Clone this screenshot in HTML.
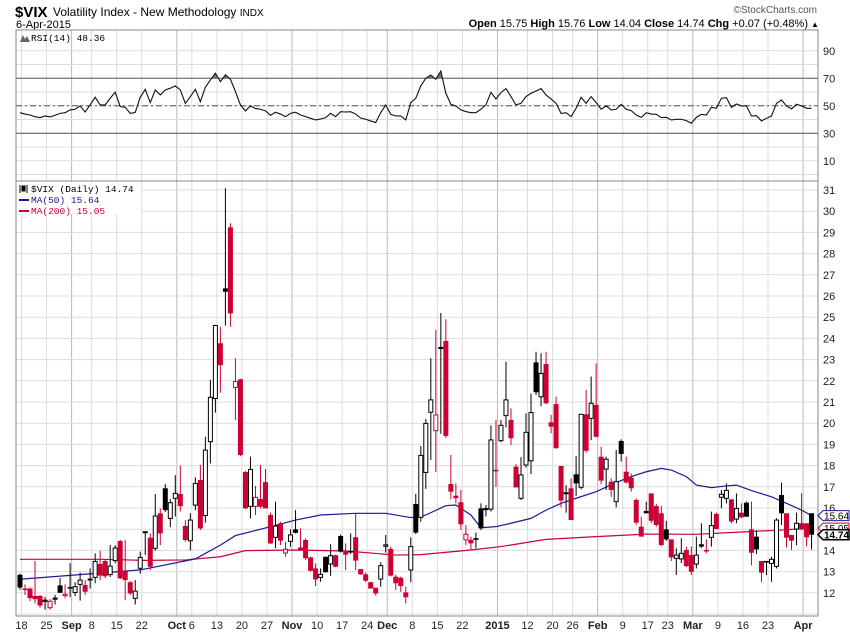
<!DOCTYPE html>
<html><head><meta charset="utf-8"><style>
html,body{margin:0;padding:0;background:#fff;}
svg{display:block;font-family:"Liberation Sans",sans-serif;}
</style></head><body>
<svg id="chart" width="850" height="633" viewBox="0 0 850 633" xmlns="http://www.w3.org/2000/svg">
<g>
<text x="15" y="17" font-size="15" font-weight="bold">$VIX</text>
<text x="53" y="16" font-size="12">Volatility Index - New Methodology <tspan font-size="10">INDX</tspan></text>
<text x="16" y="28" font-size="11">6-Apr-2015</text>
<text x="817" y="13" font-size="10" fill="#555" text-anchor="end">©StockCharts.com</text>
<text x="808" y="27" font-size="11" text-anchor="end"><tspan font-weight="bold">Open</tspan> 15.75 <tspan font-weight="bold">High</tspan> 15.76 <tspan font-weight="bold">Low</tspan> 14.04 <tspan font-weight="bold">Close</tspan> 14.74 <tspan font-weight="bold">Chg</tspan> +0.07 (+0.48%)</text>
<text x="811" y="27" font-size="8">▲</text>
</g>
<g id="grid"></g>
<g id="rsi"></g>
<g id="main"></g>
<g id="axes"></g>
</svg>
<script>
const NS="http://www.w3.org/2000/svg";
const opens=[12.85,12.2,12.2,11.85,11.85,11.55,11.25,11.65,12.35,11.82,12.27,11.97,12.35,12.37,12.6,12.68,13.36,13.5,12.81,13.47,14.44,13.0,12.5,11.69,13.11,14.8,14.6,14.05,15.75,16.93,15.46,16.41,16.66,15.15,14.41,16.09,17.32,15.6,19.08,21.12,23.77,26.36,29.24,21.64,22.07,17.7,16.03,16.03,16.42,17.22,15.67,14.57,15.28,13.83,14.38,14.99,14.14,14.49,13.67,13.15,12.68,13.7,13.31,13.77,14.68,13.94,13.97,14.62,13.12,12.87,12.5,12.24,12.6,14.15,14.07,12.76,12.71,12.02,13.03,16.19,15.51,17.63,20.47,19.6,23.6,23.88,17.13,16.58,16.27,14.45,14.5,14.58,15.98,15.9,15.9,17.8,19.13,20.31,20.15,17.95,16.41,17.98,18.18,22.87,21.2,22.79,20.04,20.9,17.98,16.74,16.93,17.59,16.93,20.42,20.18,20.86,18.42,17.79,17.24,16.25,19.16,17.71,17.43,16.38,15.12,15.86,16.69,16.09,15.75,14.99,14.52,13.58,13.55,14.02,13.78,13.31,14.29,14.02,14.57,15.72,16.46,16.41,16.41,15.43,15.78,16.25,14.99,14.65,13.5,13.5,13.34,13.2,16.61,15.75,14.73,14.96,15.28,15.28,15.75];
const highs=[12.9,12.4,12.25,13.5,11.9,11.8,11.7,11.9,12.7,12.4,13.4,12.5,12.96,12.6,13.15,13.86,13.98,13.6,14.26,14.25,14.5,14.5,12.55,12.6,13.94,14.9,14.8,16.66,15.98,17.13,16.42,17.55,18.0,15.43,15.75,17.45,18.03,19.36,22.04,24.64,24.55,31.08,29.43,23.06,22.1,17.75,18.42,17.04,18.03,17.84,15.78,16.3,15.35,14.41,14.99,15.9,15.04,14.57,13.7,13.39,13.15,13.7,14.29,13.8,14.75,14.33,14.8,15.75,13.13,12.96,12.5,12.24,13.44,14.73,14.18,12.84,12.76,12.29,14.62,16.66,18.92,20.2,23.06,24.4,25.2,24.9,18.5,17.16,16.85,15.2,14.65,14.84,16.22,16.14,19.9,20.15,20.15,22.9,20.7,18.07,18.4,20.47,21.4,23.37,23.3,23.37,20.39,21.25,17.98,17.08,17.4,18.45,20.42,21.57,22.2,22.82,18.89,18.42,17.4,18.74,19.24,18.42,17.63,16.45,15.59,16.3,16.69,16.2,16.1,15.4,14.52,14.1,14.57,14.18,14.18,14.65,15.28,14.52,15.83,15.78,16.85,17.16,16.41,16.69,16.22,16.3,16.3,14.96,13.5,13.5,13.7,15.52,17.2,15.75,14.73,15.78,16.7,15.28,15.76];
const lows=[12.15,11.9,11.6,11.5,11.3,11.2,11.2,11.45,12.0,11.75,11.8,11.85,11.63,11.9,12.2,12.45,12.6,12.7,12.75,13.4,12.65,11.65,11.9,11.45,12.9,13.78,13.07,13.98,14.25,15.82,15.1,15.6,15.83,14.41,14.0,15.9,14.96,15.31,18.1,20.5,21.44,24.6,24.55,20.15,18.45,15.95,15.51,15.67,15.98,15.98,14.3,14.1,14.25,13.7,14.17,14.8,13.98,13.55,13.0,12.32,12.52,12.97,12.8,13.2,13.9,13.07,13.83,13.07,12.85,12.52,12.2,11.87,12.29,13.9,12.77,12.13,12.05,11.5,12.5,14.77,15.35,16.9,18.26,17.7,19.5,19.3,16.4,16.22,14.96,14.25,14.02,14.1,14.96,15.6,15.83,17.0,19.1,19.8,18.97,16.97,16.38,17.9,17.6,21.33,20.8,20.9,19.52,18.8,16.03,15.78,15.43,16.57,16.88,18.61,19.2,19.33,17.13,16.85,16.53,16.03,18.19,17.16,16.77,15.2,14.65,15.75,15.28,15.1,14.2,14.45,13.5,12.84,13.4,13.2,12.84,13.15,14.1,13.86,14.18,15.01,15.98,16.22,15.28,15.28,15.52,15.59,13.3,13.83,12.5,12.84,12.52,13.15,15.2,14.14,14.02,14.25,14.96,14.2,14.04];
const closes=[12.25,12.15,11.75,11.7,11.4,11.65,11.6,11.75,12.0,11.93,12.22,12.29,12.6,12.05,12.65,13.48,12.81,12.78,13.26,14.11,12.68,12.6,11.97,12.08,13.67,14.88,13.23,15.62,14.8,15.9,16.25,16.69,16.09,14.49,15.43,17.16,15.04,18.73,21.22,24.61,22.74,26.2,25.18,21.97,18.5,15.98,17.82,16.5,16.06,15.98,14.33,15.15,14.46,14.05,14.73,14.83,14.02,13.63,13.04,12.63,12.87,12.97,13.75,13.23,13.94,13.8,13.92,13.52,12.87,12.57,12.2,11.97,13.28,14.26,12.81,12.45,12.32,11.79,14.18,14.84,18.48,19.99,21.1,20.39,23.5,19.4,16.77,16.46,15.23,14.76,14.33,14.5,15.04,15.97,19.21,17.73,19.9,21.1,19.29,16.97,17.56,19.57,20.5,21.46,22.35,20.94,19.84,18.82,16.35,16.65,15.43,17.16,20.42,18.7,20.94,19.36,17.29,18.3,16.85,17.24,18.55,17.2,16.93,15.31,14.65,15.75,15.4,15.2,14.25,14.52,13.67,13.78,13.86,13.26,12.99,13.78,14.18,13.95,15.17,15.01,16.65,16.83,15.36,15.98,15.56,15.59,13.89,14.05,12.95,13.43,13.58,15.43,15.75,14.6,14.46,15.28,14.99,14.62,14.74];
const rsiValues=[45,44,43.3,42.1,41.4,42.6,41.9,43.1,44.5,45,47,47.5,49.9,45.5,50.6,56.2,50.6,50.6,55.5,59.9,49.5,48.9,44.5,45.2,56.2,62,52.3,61.5,57.9,61.5,62.8,64.5,61.5,51.8,56.7,62,53,63.5,68.8,73.7,67.6,72.5,69.3,60.4,50.6,46.3,49.9,48,47.5,46.3,43.1,45.3,44,42.1,44.5,45.3,43.3,42.1,40.9,39.7,40.4,41.4,44.5,42.1,45.7,45.5,45.7,44,41.1,40.2,39,37.8,45,50.6,43.8,42.6,42.6,39.7,52.3,55.5,64.5,70,72.4,69.3,75.3,59.1,51.1,49.9,47,45.8,45,45,47.5,50.6,59.8,55,59.6,62.5,56.7,50.6,51.8,56.7,59.1,60.8,62.5,57.9,55,51.8,44.5,45,42.1,48.2,56.2,51.8,56.7,52.3,47.5,49.9,47,47.5,51.1,47.5,46.5,43.3,41.6,45,44,43.8,41.4,41.6,39.7,40.2,40.2,39.2,37.3,41.6,43.8,43.3,48.9,48.2,55.5,55.9,48.9,51.3,49.9,49.9,42.6,42.8,39,40.9,42.6,51.8,54.2,49.9,47.7,51.1,49.9,48.2,48.2];
const ma50Idx=[0,24,35,40,43,50,55,60,67,73,78,80,81,85,87,90,92,95,98,102,105,108,111,115,119,122,125,128,130,133,135,138,141,143,146,150,153,156,158];
const ma50Values=[12.64,13.08,13.6,14.25,14.7,15.12,15.43,15.67,15.75,15.75,15.55,15.6,15.67,16.11,16.14,15.67,15.07,15.12,15.28,15.51,15.9,16.22,16.46,16.77,17.2,17.48,17.71,17.87,17.79,17.48,17.08,16.96,17.04,17.08,16.82,16.53,16.22,15.9,15.64];
const ma200Idx=[0,16,25,33,40,45,55,65,75,80,90,96,105,115,125,135,145,152,158];
const ma200Values=[13.58,13.58,13.53,13.55,13.7,13.99,14.02,13.97,13.78,13.8,14.02,14.18,14.52,14.65,14.77,14.76,14.88,14.96,15.05];
const priceTicks=[12,13,14,15,16,17,18,19,20,21,22,23,24,25,26,27,28,29,30,31];
const rsiTicks=[10,30,50,70,90];
const dateTickIdx=[0,5,10,14,19,24,31,34,39,44,49,54,59,64,69,73,78,83,88,95,101,106,110,115,120,125,129,134,139,144,149,156];
const dateTickLabels=["18","25","Sep","8","15","22","Oct","6","13","20","27","Nov","10","17","24","Dec","8","15","22","2015","12","20","26","Feb","9","17","23","Mar","9","16","23","Apr"];
const monthTickIdx=[10,31,54,73,95,115,134,156];

const L=16,R=818,RT=30,RB=181,MT=181,MB=616;
const RED="#cc0033",BLUE="#1a1a99";
function xOf(i){return 20+i*5.01;}
function yP(v){return 190+(31-v)*21.2;}
function yR(v){return 78.3+(70-v)*1.375;}
function mk(tag,attrs,parent){const e=document.createElementNS(NS,tag);for(const k in attrs)e.setAttribute(k,attrs[k]);parent.appendChild(e);return e;}

const grid=document.getElementById('grid'),rsi=document.getElementById('rsi'),main=document.getElementById('main'),axes=document.getElementById('axes');
dateTickIdx.forEach((d,k)=>{
  const isM=monthTickIdx.indexOf(d)>=0;
  const x=xOf(d)+1.5;
  const ln=mk('line',{x1:x,x2:x,y1:RT,y2:MB,stroke:isM?'#b8b8b8':'#dcdcdc','stroke-width':1},grid);
  
  
  const t=mk('text',{x:x,y:629,'font-size':11,'text-anchor':'middle','font-weight':isM?'bold':'normal',fill:'#222'},axes);
  t.textContent=dateTickLabels[k];
  
  
});
for(let v=0;v<=90;v+=10){
  const y=yR(v);
  const ln=mk('line',{x1:L,x2:R,y1:y,y2:y,stroke:'#dcdcdc'},grid);
  
  
}
rsiTicks.forEach(v=>{
  const t=mk('text',{x:823,y:yR(v)+4,'font-size':11,fill:'#222'},axes);
  t.textContent=v;
  
  
});
[70,30].forEach(v=>{
  const ln=mk('line',{x1:L,x2:R,y1:yR(v),y2:yR(v),stroke:'#555'},rsi);
  
  
});
const mid=mk('line',{x1:L,x2:R,y1:yR(50),y2:yR(50),stroke:'#555','stroke-dasharray':'6,3,2,3'},rsi);


for(let v=11;v<=31;v++){
  const y=yP(v);
  const ln=mk('line',{x1:L,x2:R,y1:y,y2:y,stroke:'#dcdcdc'},grid);
  
  
}
priceTicks.forEach(v=>{
  const t=mk('text',{x:823,y:yP(v)+4,'font-size':11,fill:'#222'},axes);
  t.textContent=v;
  
  
});
const defs=mk('defs',{},rsi);
const cp=mk('clipPath',{id:'ob'},defs);
mk('rect',{x:L,y:RT,width:R-L,height:yR(70)-RT},cp);
let pts=rsiValues.map((v,i)=>xOf(i)+','+yR(v));
const fillP=mk('polygon',{points:xOf(0)+','+yR(70)+' '+pts.join(' ')+' '+xOf(rsiValues.length-1)+','+yR(70),fill:'#777','clip-path':'url(#ob)'},rsi);


const rl=mk('polyline',{points:pts.join(' '),fill:'none',stroke:'#111','stroke-width':1.1},rsi);


const rb=mk('rect',{x:L,y:RT,width:R-L,height:RB-RT,fill:'none',stroke:'#888'},axes);


const mb=mk('rect',{x:L,y:MT,width:R-L,height:MB-MT,fill:'none',stroke:'#888'},axes);


function maLine(idx,vals,col,name){
  const p=idx.map((d,k)=>xOf(d)+','+yP(vals[k])).join(' ');
  const l=mk('polyline',{points:p,fill:'none',stroke:col,'stroke-width':1.2},main);
  
  
}
maLine(ma200Idx,ma200Values,RED,'ma200-line');
maLine(ma50Idx,ma50Values,BLUE,'ma50-line');
closes.forEach((c,i)=>{
  const o=opens[i],h=highs[i],l=lows[i];
  const prev=i>0?closes[i-1]:c;
  const col=c<prev?RED:'#000';
  const filled=c<o;
  const x=xOf(i);
  const g=mk('g',{},main);
  
  
  mk('line',{x1:x,x2:x,y1:yP(h),y2:yP(l),stroke:col,'stroke-width':1},g);
  const top=yP(Math.max(o,c)),bot=yP(Math.min(o,c));
  const hh=Math.max(bot-top,1.5);
  if(filled) mk('rect',{x:x-2.5,y:top,width:5,height:hh,fill:col},g);
  else mk('rect',{x:x-2,y:top,width:4,height:Math.max(hh-1,1),fill:'#fff',stroke:col,'stroke-width':1},g);
});
function tag(v,col,name,bold){
  const y=yP(v);
  const g=mk('g',{},axes);
  
  
  mk('path',{d:`M818 ${y} L823 ${y-5} L849 ${y-5} L849 ${y+5} L823 ${y+5} Z`,fill:'#fff',stroke:col,'stroke-width':bold?1.5:1},g);
  const t=mk('text',{x:824,y:y+4,'font-size':10,fill:'#000','font-weight':bold?'bold':'normal'},g);
  t.textContent=v.toFixed(2);
}
tag(15.05,RED,'ma200-value-tag',false);
tag(15.64,BLUE,'ma50-value-tag',false);
tag(14.74,'#000','last-price-tag',true);
function legText(x,y,txt,col,name){
  const t=mk('text',{x:x,y:y,'font-size':9.5,'font-family':'Liberation Mono, DejaVu Sans Mono, monospace',fill:col},axes);
  t.textContent=txt;
  
  
}
mk('rect',{x:L+1,y:MT+1,width:124,height:32,fill:'#fff'},axes);
legText(31,41,'RSI(14) 48.36','#000','rsi-legend');
mk('path',{d:'M20 42 L23 35 L25 39 L27 36 L30 42 Z',fill:'#666'},axes);
legText(31,192,'$VIX (Daily) 14.74','#000','price-legend');
mk('path',{d:'M20 185 v8 M22 186 h3 v5 h-3 Z M27 185 v8',stroke:'#000','stroke-width':1,fill:'#000'},axes);
legText(31,203,'MA(50) 15.64',BLUE,'ma50-legend');
mk('rect',{x:19,y:199,width:10,height:2,fill:BLUE},axes);
legText(31,214,'MA(200) 15.05',RED,'ma200-legend');
mk('rect',{x:19,y:210,width:10,height:2,fill:RED},axes);
</script>
</body></html>
